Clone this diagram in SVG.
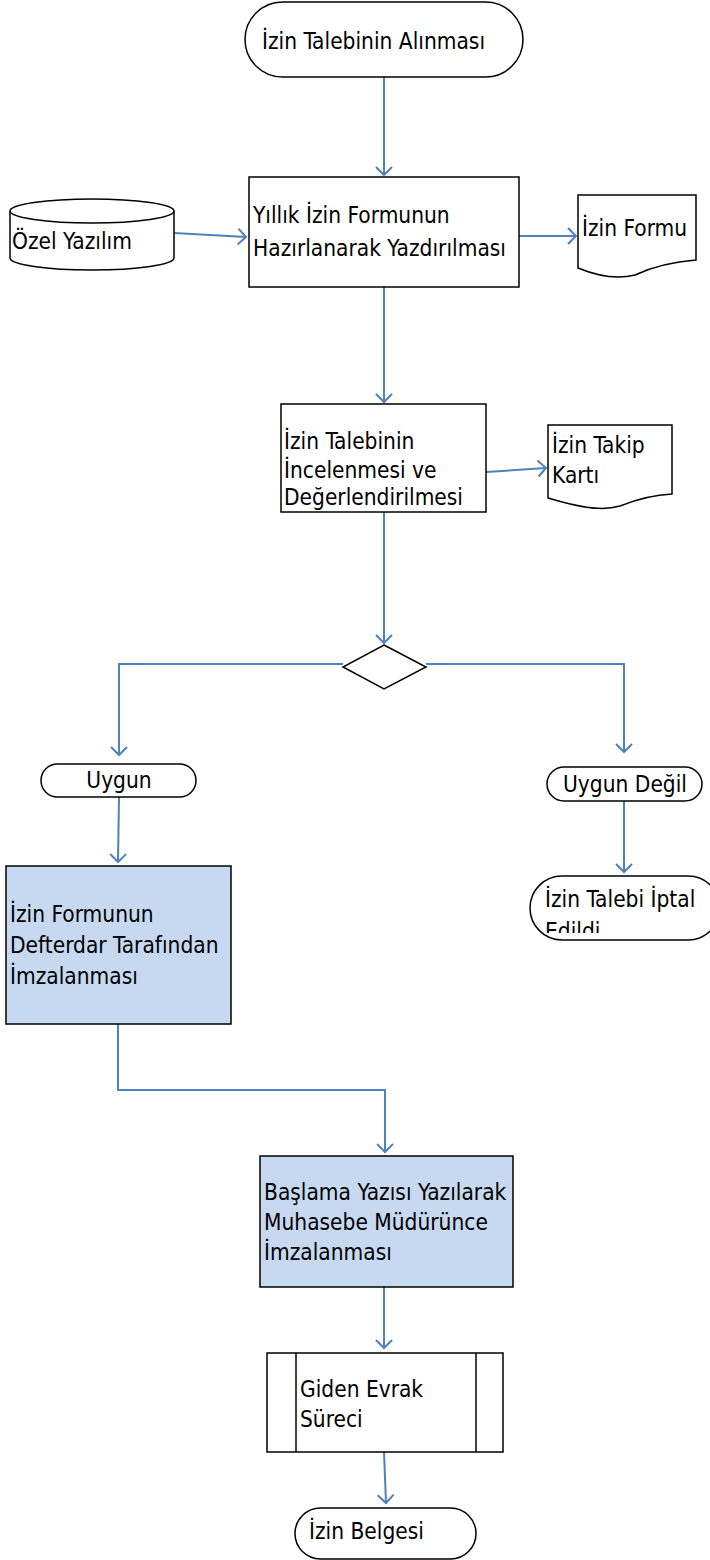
<svg xmlns="http://www.w3.org/2000/svg" width="710" height="1560" viewBox="0 0 710 1560">
<style>
.s{fill:#fff;stroke:#000;stroke-width:1.5}
.b{fill:#C6D9F1;stroke:#000;stroke-width:1.5}
.t{font-family:"DejaVu Sans Condensed","DejaVu Sans",sans-serif;font-stretch:condensed;font-size:22.5px;fill:#000}
.c{fill:none;stroke:#4F81BD;stroke-width:2}
</style>
<defs>
<marker id="a" markerWidth="20" markerHeight="20" refX="10" refY="10" orient="auto" markerUnits="userSpaceOnUse">
<path d="M2,2 L10,10 L2,18" fill="none" stroke="#4F81BD" stroke-width="2"/>
</marker>
<clipPath id="k1"><rect x="520" y="870" width="190" height="63"/></clipPath>
</defs>
<rect width="710" height="1560" fill="#fff"/>
<g id="connectors">
<path class="c" d="M384,77 V175" marker-end="url(#a)"/>
<path class="c" d="M174,233 L246,237" marker-end="url(#a)"/>
<path class="c" d="M519,236 L576,236" marker-end="url(#a)"/>
<path class="c" d="M384,287 V402" marker-end="url(#a)"/>
<path class="c" d="M486,472 L546,468" marker-end="url(#a)"/>
<path class="c" d="M384,512 V643" marker-end="url(#a)"/>
<path class="c" d="M343,664 H119 V755" marker-end="url(#a)"/>
<path class="c" d="M426,664 H624 V752" marker-end="url(#a)"/>
<path class="c" d="M119,797 L118,862" marker-end="url(#a)"/>
<path class="c" d="M624,801 V872" marker-end="url(#a)"/>
<path class="c" d="M118,1024 V1090 H385 V1152" marker-end="url(#a)"/>
<path class="c" d="M384,1287 V1348" marker-end="url(#a)"/>
<path class="c" d="M384,1452 L386,1503" marker-end="url(#a)"/>
</g>
<g id="n1">
<rect class="s" x="245" y="2" width="278" height="75" rx="37.5"/>
<text class="t" x="262" y="49">İzin Talebinin Alınması</text>
</g>
<g id="n2">
<rect class="s" x="249" y="177" width="270" height="110"/>
<text class="t" x="253" y="223">Yıllık İzin Formunun</text>
<text class="t" x="253" y="256">Hazırlanarak Yazdırılması</text>
</g>
<g id="n3">
<path class="s" d="M10,211 A82,12 0 0 1 174,211 V258 A82,12 0 0 1 10,258 Z"/>
<path class="s" d="M10,211 A82,12 0 0 0 174,211" fill="none"/>
<text class="t" x="12" y="249">Özel Yazılım</text>
</g>
<g id="n4">
<path class="s" d="M578,195 H696 V260 C670,262 650,268 635,275 C615,280 595,275 578,268 Z"/>
<text class="t" x="582" y="236">İzin Formu</text>
</g>
<g id="n5">
<rect class="s" x="281" y="404" width="205" height="108"/>
<text class="t" x="284" y="449">İzin Talebinin</text>
<text class="t" x="284" y="478">İncelenmesi ve</text>
<text class="t" x="284" y="505">Değerlendirilmesi</text>
</g>
<g id="n6">
<path class="s" d="M548,425 H672 V494 C650,495 635,500 620,506 C600,512 575,506 548,498 Z"/>
<text class="t" x="552" y="453">İzin Takip</text>
<text class="t" x="552" y="483">Kartı</text>
</g>
<g id="n7">
<path class="s" d="M384,645 L426,667 L384,689 L343,667 Z"/>
</g>
<g id="n8">
<rect class="s" x="41" y="764" width="155" height="33" rx="16.5"/>
<text class="t" x="119" y="788" text-anchor="middle">Uygun</text>
</g>
<g id="n9">
<rect class="s" x="547" y="767" width="155" height="34" rx="17"/>
<text class="t" x="625" y="792" text-anchor="middle">Uygun Değil</text>
</g>
<g id="n10">
<rect class="s" x="530" y="876" width="190" height="64" rx="32"/>
<text class="t" x="545" y="907">İzin Talebi İptal</text>
<text class="t" x="545" y="939" clip-path="url(#k1)">Edildi</text>
</g>
<g id="n11">
<rect class="b" x="6" y="866" width="225" height="158"/>
<text class="t" x="10" y="922">İzin Formunun</text>
<text class="t" x="10" y="953">Defterdar Tarafından</text>
<text class="t" x="10" y="984">İmzalanması</text>
</g>
<g id="n12">
<rect class="b" x="260" y="1156" width="253" height="131"/>
<text class="t" x="264" y="1200">Başlama Yazısı Yazılarak</text>
<text class="t" x="264" y="1230">Muhasebe Müdürünce</text>
<text class="t" x="264" y="1260">İmzalanması</text>
</g>
<g id="n13">
<rect class="s" x="267" y="1353" width="236" height="99"/>
<line class="s" x1="296" y1="1353" x2="296" y2="1452"/>
<line class="s" x1="476" y1="1353" x2="476" y2="1452"/>
<text class="t" x="300" y="1397">Giden Evrak</text>
<text class="t" x="300" y="1427">Süreci</text>
</g>
<g id="n14">
<rect class="s" x="295" y="1508" width="181" height="51" rx="25.5"/>
<text class="t" x="309" y="1539">İzin Belgesi</text>
</g>
</svg>
